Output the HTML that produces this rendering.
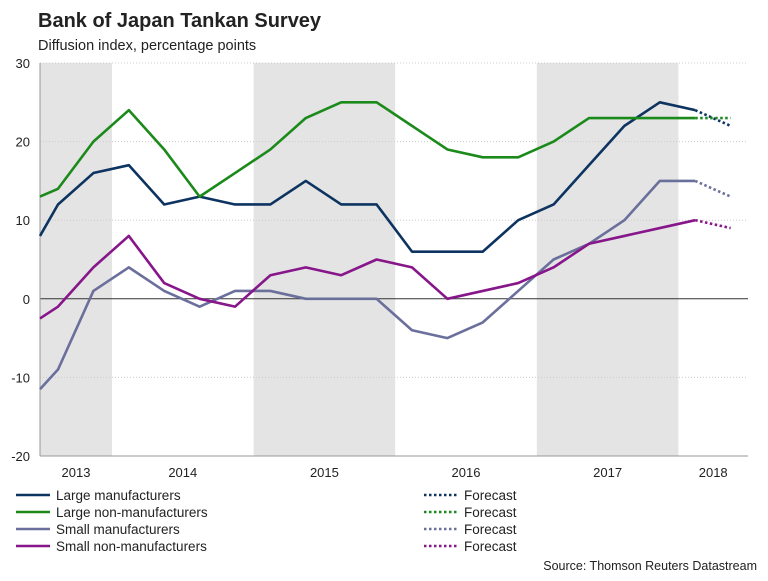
<!DOCTYPE html>
<html><head><meta charset="utf-8"><style>
body{margin:0;background:#fff;font-family:"Liberation Sans",sans-serif;}
svg text{font-family:"Liberation Sans",sans-serif;}
</style></head><body>
<svg width="768" height="576">
<text x="38" y="27" font-size="20" font-weight="bold" fill="#222">Bank of Japan Tankan Survey</text>
<text x="38" y="50" font-size="14.5" fill="#222">Diffusion index, percentage points</text>
<g id="bands"></g><g id="grid"></g><g id="series"></g><g id="legend"></g>
<text x="757" y="570" font-size="12.5" text-anchor="end" fill="#222">Source: Thomson Reuters Datastream</text>
</svg>
<script>
const yTicks=[30,20,10,0,-10,-20];
const years=["2013","2014","2015","2016","2017","2018"];
const names=["Large manufacturers","Large non-manufacturers","Small manufacturers","Small non-manufacturers"];
const largeMan=[8,12,16,17,12,13,12,12,15,12,12,6,6,6,10,12,17,22,25,24];
const largeNon=[13,14,20,24,19,13,16,19,23,25,25,22,19,18,18,20,23,23,23,23];
const smallMan=[-11.5,-9,1,4,1,-1,1,1,0,0,0,-4,-5,-3,1,5,7,10,15,15];
const smallNon=[-2.5,-1,4,8,2,0,-1,3,4,3,5,4,0,1,2,4,7,8,9,10];
const forecasts=[22,23,13,9];
const colors=["#0d3461","#1b8a1b","#6b6f9b","#87168a"];
const NS="http://www.w3.org/2000/svg";
const L=40,R=748,T=63,B=456,Q=35.4,X0=58;
const y=v=>T+(30-v)/50*(B-T);
const x=i=>X0+(i-1)*Q+ (i===0?Q/2:0); // index0 is half quarter before first
function el(t,a,p){const e=document.createElementNS(NS,t);for(const k in a)e.setAttribute(k,a[k]);p.appendChild(e);return e;}
const bands=document.getElementById('bands'),grid=document.getElementById('grid'),ser=document.getElementById('series'),leg=document.getElementById('legend');
const yw=4*Q, ys=112-yw;
years.forEach((yr,k)=>{
 const a=Math.max(L,ys+k*yw),b=Math.min(R,ys+(k+1)*yw);
 if(k%2===0){const r=el('rect',{x:a,y:T,width:b-a,height:B-T,fill:'#e4e4e4'},bands);
 }
 const t=el('text',{x:(a+b)/2,y:477,'font-size':13,'text-anchor':'middle',fill:'#222'},bands);t.textContent=yr;
 
});
yTicks.forEach(v=>{
 const ln=el('line',{x1:L,x2:R,y1:y(v),y2:y(v),stroke:v===0?'#333':'#ccc','stroke-width':1,'stroke-dasharray':v===0?'':'1,2'},grid);
 
 const t=el('text',{x:30,y:y(v)+5,'font-size':13,'text-anchor':'end',fill:'#222'},grid);t.textContent=v;
 
});
const ax=el('line',{x1:L,x2:L,y1:T,y2:B,stroke:'#999'},grid);
const bx=el('line',{x1:L,x2:R,y1:B,y2:B,stroke:'#999'},grid);
const all=[largeMan,largeNon,smallMan,smallNon];
const px=i=>i===0?L:X0+(i-1)*Q;
all.forEach((s,k)=>{
 const pts=s.map((v,i)=>px(i)+','+y(v)).join(' ');
 const p=el('polyline',{points:pts,fill:'none',stroke:colors[k],'stroke-width':2.6,'stroke-linejoin':'round'},ser);
 
 const n=s.length-1;
 const f=el('line',{x1:px(n),y1:y(s[n]),x2:px(n+1),y2:y(forecasts[k]),stroke:colors[k],'stroke-width':2.6,'stroke-dasharray':'2.5,2.5'},ser);
 
 const ly=495+k*17;
 const l1=el('line',{x1:16,x2:50,y1:ly,y2:ly,stroke:colors[k],'stroke-width':2.6},leg);
 
 const t1=el('text',{x:56,y:ly+5,'font-size':13.5,fill:'#222'},leg);t1.textContent=names[k];
 
 const l2=el('line',{x1:424,x2:458,y1:ly,y2:ly,stroke:colors[k],'stroke-width':2.6,'stroke-dasharray':'2.5,2.5'},leg);
 
 const t2=el('text',{x:464,y:ly+5,'font-size':13.5,fill:'#222'},leg);t2.textContent='Forecast';
 
});
</script>
</body></html>
